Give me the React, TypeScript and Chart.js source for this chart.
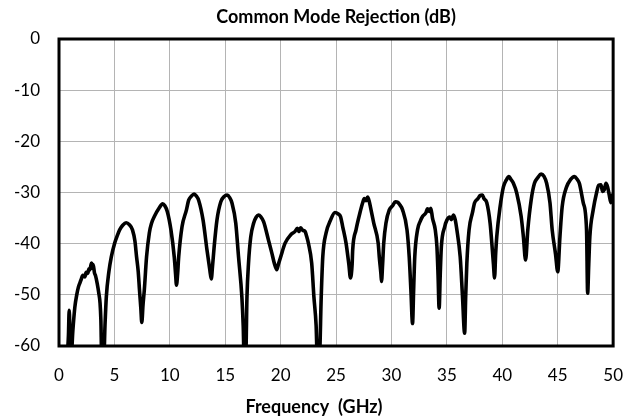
import React, { useEffect, useRef } from "react";
import { Chart, registerables } from "chart.js";

Chart.register(...registerables);

const titleText = "Common Mode Rejection (dB)";
const xTitle = "Frequency  (GHz)";

const freqGHz: number[] = [
  0.6, 0.7, 0.85, 0.92, 1.0, 1.1, 1.25, 1.43, 1.6, 1.75, 1.88, 2.0, 2.15, 2.33, 2.45, 2.6, 2.7, 2.78, 2.88, 2.93, 3.0, 3.08, 3.2, 3.3, 3.45, 3.6, 3.7, 3.78, 3.85, 4.05, 4.15,
  4.27, 4.5, 4.72, 5.02, 5.25, 5.47, 5.75, 6.06, 6.35, 6.63, 6.85, 7.0, 7.15, 7.26, 7.38, 7.47, 7.58, 7.7, 7.9,
  8.15, 8.35, 8.6, 9.05, 9.35, 9.55, 9.77, 10.1, 10.4, 10.52, 10.6, 10.7, 10.8, 11.1, 11.5, 11.7, 11.95,
  12.19, 12.4, 12.6, 13.0, 13.35, 13.6, 13.74, 13.85, 14.0, 14.25, 14.6, 14.9, 15.17, 15.4, 15.6, 15.95,
  16.2, 16.5, 16.62, 16.7, 16.85, 16.96, 17.1, 17.3, 17.56, 17.8, 18.0, 18.2, 18.46, 18.9, 19.2, 19.45,
  19.65, 19.8, 20.0, 20.4, 20.9, 21.3, 21.5, 21.65, 21.8, 22.0, 22.2, 22.35, 22.5, 22.8, 23.0, 23.2, 23.3,
  23.5, 23.66, 23.8, 24.1, 24.5, 24.9, 25.2, 25.4, 25.6, 25.9, 26.15, 26.3, 26.45, 26.5, 26.8, 27.15, 27.4,
  27.55, 27.7, 27.85, 28.0, 28.1, 28.4, 28.8, 28.9, 29.05, 29.1, 29.2, 29.3, 29.5, 29.8, 30.1, 30.35, 30.56,
  30.75, 31.0, 31.4, 31.6, 31.75, 31.9, 32.0, 32.1, 32.35, 32.6, 32.8, 33.1, 33.25, 33.4, 33.55, 33.7, 33.95,
  34.1, 34.2, 34.3, 34.4, 34.5, 34.8, 35.0, 35.25, 35.4, 35.6, 35.75, 35.9, 36.2, 36.4, 36.6, 36.7, 36.8,
  37.0, 37.3, 37.5, 37.8, 38.0, 38.2, 38.35, 38.6, 38.9, 39.1, 39.2, 39.3, 39.4, 39.5, 39.8, 40.1, 40.35,
  40.6, 40.8, 41.0, 41.3, 41.7, 41.9, 42.1, 42.3, 42.6, 42.9, 43.2, 43.5, 43.75, 44.0, 44.3, 44.5, 44.8,
  45.0, 45.2, 45.4, 45.8, 46.15, 46.5, 46.75, 46.95, 47.3, 47.6, 47.7, 47.8, 47.9, 48.2, 48.5, 48.7, 48.9,
  49.05, 49.2, 49.35, 49.5, 49.65, 49.8, 49.9, 50.0,
];

const cmrDB: number[] = [
  -62, -62, -58, -53, -58, -62, -57, -52.4, -50, -48.5, -47.7, -47, -46.2, -46.5, -45.6, -45.8, -44.9, -45.1, -44.2, -43.8, -44.8, -44.1, -45.7, -46.3, -47.8, -49.8, -51.5, -55, -62, -62, -56,
  -50.4, -45.5, -42.6, -39.9, -38.5, -37.3, -36.4, -35.9, -36.3, -37.3, -39.5, -42.6, -45.5, -49, -52.5, -55.4, -52, -49, -42.6,
  -37.9, -36, -34.7, -33, -32.2, -32.6, -33.7, -37.3, -42.6, -46, -48.1, -46, -42.6, -36.7, -33.4, -31.5, -30.7,
  -30.3, -30.7, -31.5, -35.4, -41.2, -45, -46.9, -44.5, -40.6, -35.4, -31.8, -30.8, -30.5, -31, -32, -36,
  -42.6, -50.4, -56, -62, -62, -50.4, -43.8, -38.7, -36, -34.8, -34.4, -34.7, -35.7, -39.3, -41.8, -44,
  -45.1, -44, -42.6, -39.9, -38.3, -37.6, -37.0, -37.6, -36.9, -37.4, -37.6, -38.6, -39.9, -43.8, -50.4, -56, -62,
  -62, -50.4, -42.6, -37.9, -35.4, -33.9, -34.2, -34.7, -36.7, -39.9, -44, -46.7, -44, -41.2, -37.3, -34, -32,
  -31.2, -31.6, -30.9, -31.8, -32.8, -36, -39.9, -42.6, -46, -47.4, -44, -39.9, -36, -33.4, -32.6, -31.8, -31.9,
  -32.4, -33.4, -37.3, -42.6, -49, -55.6, -49, -42.6, -37.3, -35.6, -34.7, -34, -33.2, -33.7, -33.1, -35, -37.3,
  -40.6, -46, -52.6, -46, -40.6, -36.7, -35.4, -34.8, -35.3, -34.4, -35.3, -37.3, -42.6, -50, -57.5, -50, -43.8,
  -37.3, -34, -32, -31.2, -30.6, -30.5, -31.2, -32, -36, -41.2, -44, -46.7, -42, -38.6, -32.8, -28.9, -27.6,
  -26.9, -27.5, -28.2, -30.1, -34.7, -38.6, -43.2, -37.3, -31.5, -28.2, -27.1, -26.4, -26.8, -28.2, -32, -37.3, -42,
  -45.5, -38.6, -32.8, -28.9, -27.5, -26.9, -27.4, -28.2, -32, -37.3, -49.7, -44, -38.6, -33.4, -30.1, -28.6, -28.5,
  -29.8, -29.5, -28.2, -28.9, -30.5, -32, -30.5, -31,
];

const xTicks: number[] = [0, 5, 10, 15, 20, 25, 30, 35, 40, 45, 50];
const yTicks: number[] = [0, -10, -20, -30, -40, -50, -60];

const FONT = "Lato, 'Open Sans', sans-serif";

const frame = {
  id: "frame",
  afterDatasetsDraw(chart: any) {
    const { ctx, chartArea } = chart;
    ctx.save();
    ctx.strokeStyle = "#000";
    ctx.lineWidth = 3;
    ctx.strokeRect(chartArea.left, chartArea.top, chartArea.right - chartArea.left, chartArea.bottom - chartArea.top);
    ctx.restore();
  },
};

// x-axis title, placed where the reference puts it (slightly left of the plot centre)
const xAxisTitle = {
  id: "xAxisTitle",
  afterDraw(chart: any) {
    const { ctx } = chart;
    ctx.save();
    ctx.fillStyle = "#000";
    ctx.font = `bold 18px ${FONT}`;
    ctx.textAlign = "center";
    ctx.textBaseline = "middle";
    ctx.fillText(xTitle, 314, 407);
    ctx.restore();
  },
};

export default function App() {
  const ref = useRef<HTMLCanvasElement | null>(null);
  useEffect(() => {
    if (!ref.current) return;
    const points = freqGHz.map((f, i) => ({ x: f, y: cmrDB[i] }));
    const chart = new Chart(ref.current, {
      type: "line",
      data: {
        datasets: [
          {
            data: points,
            borderColor: "#000",
            borderWidth: 3.6,
            pointRadius: 0,
            cubicInterpolationMode: "monotone",
            borderJoinStyle: "round",
            clip: 0,
          } as any,
        ],
      },
      options: {
        animation: false,
        responsive: false,
        maintainAspectRatio: false,
        layout: { padding: { left: 0, right: 25, top: 0, bottom: 0 } },
        plugins: {
          legend: { display: false },
          tooltip: { enabled: false },
          title: {
            display: true,
            text: titleText,
            fullSize: false,
            color: "#000",
            font: { family: FONT, size: 18, weight: "bold", lineHeight: 1.2 },
            padding: { top: 6, bottom: 11.4 },
          },
        },
        scales: {
          x: {
            type: "linear",
            min: 0,
            max: 50,
            afterBuildTicks: (s: any) => {
              s.ticks = xTicks.map((v) => ({ value: v }));
            },
            afterFit: (s: any) => {
              s.height = 74;
            },
            grid: { color: "#b4b4b4", lineWidth: 1, drawTicks: false },
            border: { display: false },
            ticks: { color: "#000", padding: 19, font: { family: FONT, size: 17 }, maxRotation: 0 },
          },
          y: {
            type: "linear",
            min: -60,
            max: 0,
            afterBuildTicks: (s: any) => {
              s.ticks = yTicks.map((v) => ({ value: v }));
            },
            afterFit: (s: any) => {
              s.width = 59;
            },
            grid: { color: "#b4b4b4", lineWidth: 1, drawTicks: false },
            border: { display: false },
            ticks: { color: "#000", padding: 19, font: { family: FONT, size: 17 } },
          },
        },
      },
      plugins: [frame, xAxisTitle],
    });
    return () => chart.destroy();
  }, []);
  return (
    <div style={{ position: "absolute", left: 0, top: 0, width: 642, height: 420, background: "#fff" }}>
      <canvas ref={ref} width={642} height={420} style={{ width: 642, height: 420 }} />
    </div>
  );
}
